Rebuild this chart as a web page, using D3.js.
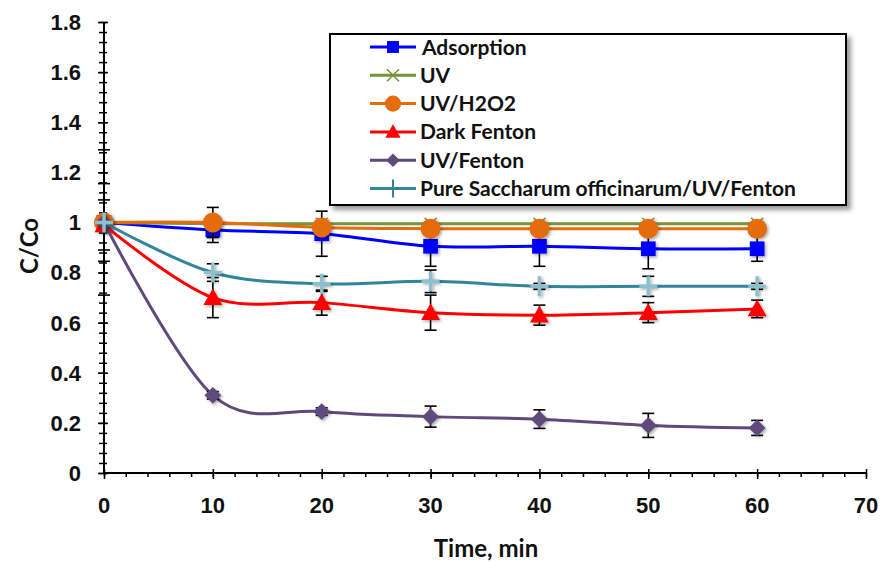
<!DOCTYPE html>
<html lang="en">
<head>
    <meta charset="UTF-8" />
    <title>C/Co vs time</title>
    <script src="https://d3js.org/d3.v7.min.js"></script>
    <style>
        body {
            margin: 0;
            background: #fff;
            font-family: Lato, "Open Sans", sans-serif;
        }
        svg text {
            font-weight: bold;
            fill: #111;
        }
    </style>
</head>
<body>
    <svg id="chart" width="884" height="562"></svg>

    <script>
        // time points (min)
        const times = [0, 10, 20, 30, 40, 50, 60];

        const seriesNames = ["Adsorption", "UV", "UV/H2O2", "Dark Fenton", "UV/Fenton",
            "Pure Saccharum officinarum/UV/Fenton"];
        const seriesColors = ["#0000ff", "#77933c", "#e46c0a", "#ff0000", "#604a7b", "#31859c"];
        const seriesMarkers = ["square", "x", "circle", "triangle", "diamond", "plus"];

        // C/Co values
        const adsorption = [1.0, 0.97, 0.955, 0.905, 0.905, 0.895, 0.895];
        const uv = [1.0, 0.995, 0.995, 0.995, 0.995, 0.995, 0.995];
        const uvH2o2 = [1.0, 1.0, 0.98, 0.975, 0.975, 0.975, 0.975];
        const darkFenton = [0.99, 0.70, 0.68, 0.64, 0.63, 0.64, 0.655];
        const uvFenton = [1.0, 0.31, 0.245, 0.225, 0.215, 0.19, 0.18];
        const saccharum = [1.0, 0.80, 0.755, 0.765, 0.745, 0.745, 0.745];

        // error bars (+/-)
        const adsorptionErr = [0, 0.05, 0.09, 0.08, 0.08, 0.08, 0.05];
        const uvErr = [0, 0, 0, 0, 0, 0, 0];
        const uvH2o2Err = [0, 0.06, 0.02, 0.02, 0.02, 0.02, 0.02];
        const darkFentonErr = [0.1, 0.08, 0.05, 0.07, 0.04, 0.04, 0.035];
        const uvFentonErr = [0.155, 0.015, 0.015, 0.042, 0.037, 0.048, 0.03];
        const saccharumErr = [0.29, 0.035, 0.03, 0.045, 0.012, 0.04, 0.012];

        const xTicks = [0, 10, 20, 30, 40, 50, 60, 70];
        const yTicks = [0, 0.2, 0.4, 0.6, 0.8, 1, 1.2, 1.4, 1.6, 1.8];

        const values = [adsorption, uv, uvH2o2, darkFenton, uvFenton, saccharum];
        const errors = [adsorptionErr, uvErr, uvH2o2Err, darkFentonErr, uvFentonErr, saccharumErr];

        const svg = d3.select("#chart");

        const x = d3.scaleLinear().domain([0, 70]).range([104, 866]);
        const y = d3.scaleLinear().domain([0, 1.8]).range([473, 22]);

        // soft shadow like the spreadsheet markers
        const defs = svg.append("defs");
        const f = defs.append("filter").attr("id", "shadow")
            .attr("x", "-50%").attr("y", "-50%").attr("width", "200%").attr("height", "200%");
        f.append("feDropShadow").attr("dx", 1.5).attr("dy", 1.5)
            .attr("stdDeviation", 1.8).attr("flood-color", "#000").attr("flood-opacity", 0.35);
        const fb = defs.append("filter").attr("id", "boxshadow")
            .attr("x", "-10%").attr("y", "-10%").attr("width", "130%").attr("height", "130%");
        fb.append("feDropShadow").attr("dx", 4).attr("dy", 4)
            .attr("stdDeviation", 2.5).attr("flood-color", "#000").attr("flood-opacity", 0.4);

        // axes
        const xAxis = svg.append("g").attr("transform", `translate(0,${y(0)})`);
        xAxis.call(d3.axisBottom(x).tickValues(d3.range(0, 71, 2)).tickSize(4).tickFormat(""))
            .call(g => g.select(".domain").remove());
        xAxis.append("g").call(d3.axisBottom(x).tickValues(xTicks).tickSize(6).tickFormat(""))
            .call(g => g.select(".domain").remove())
            .selectAll("line").attr("y1", -4);
        xAxis.append("line").attr("x1", x(0)).attr("x2", x(70))
            .attr("stroke", "#000").attr("stroke-width", 2);
        xAxis.selectAll(".tick line").attr("stroke", "#000").attr("stroke-width", 1.5);
        xAxis.selectAll("text.lbl").data(xTicks).join("text").attr("class", "lbl")
            .attr("x", d => x(d)).attr("y", 40)
            .attr("text-anchor", "middle").attr("font-size", 22).text(d => d);

        const yAxis = svg.append("g").attr("transform", `translate(${x(0)},0)`);
        yAxis.call(d3.axisLeft(y).tickValues(d3.range(0, 1.801, 0.04)).tickSize(5).tickFormat(""))
            .call(g => g.select(".domain").remove())
            .selectAll("line").attr("x2", -5).attr("x1", 3);
        yAxis.append("g").call(d3.axisLeft(y).tickValues(yTicks).tickFormat(""))
            .call(g => g.select(".domain").remove())
            .selectAll("line").attr("x2", -6).attr("x1", 4);
        yAxis.append("line").attr("y1", y(0)).attr("y2", y(1.8))
            .attr("stroke", "#000").attr("stroke-width", 2);
        yAxis.selectAll(".tick line").attr("stroke", "#000").attr("stroke-width", 1.5);
        yAxis.selectAll("text.lbl").data(yTicks).join("text").attr("class", "lbl")
            .attr("x", -23).attr("y", d => y(d)).attr("dy", "0.36em")
            .attr("text-anchor", "end").attr("font-size", 22).text(d => d);

        svg.append("text").attr("x", 486).attr("y", 557)
            .attr("text-anchor", "middle").attr("font-size", 24).text("Time, min");
        svg.append("text").attr("transform", `translate(38,246) rotate(-90)`)
            .attr("text-anchor", "middle").attr("font-size", 24).text("C/Co");

        // marker drawing
        function marker(g, type, color, legend) {
            const s = legend ? 0.85 : 1.05;
            if (type === "square") {
                g.append("rect").attr("x", -7 * s).attr("y", -7 * s).attr("width", 14 * s).attr("height", 14 * s)
                    .attr("fill", color);
            } else if (type === "circle") {
                g.append("circle").attr("r", 9.5 * s).attr("fill", color);
            } else if (type === "triangle") {
                g.append("path").attr("d", `M0,${-9 * s}L${9 * s},${7 * s}L${-9 * s},${7 * s}Z`).attr("fill", color);
            } else if (type === "diamond") {
                g.append("path").attr("d", `M0,${-8 * s}L${8 * s},0L0,${8 * s}L${-8 * s},0Z`).attr("fill", color);
            } else if (type === "x") {
                g.append("path").attr("d", `M-6,-6L6,6M-6,6L6,-6`).attr("stroke", color).attr("stroke-width", 1.5);
            } else if (type === "plus") {
                g.append("path").attr("d", legend ? "M0,-9L0,9" : "M-9,0L9,0M0,-10L0,10")
                    .attr("stroke", legend ? color : "#8dbfcd").attr("stroke-width", legend ? 2 : 3.5);
            }
        }

        const line = d3.line().x(d => x(d[0])).y(d => y(d[1])).curve(d3.curveCatmullRom.alpha(0));

        values.forEach((vals, i) => {
            const pts = times.map((t, j) => [t, vals[j], errors[i][j]]);
            const g = svg.append("g");
            g.append("path").datum(pts).attr("d", line)
                .attr("fill", "none").attr("stroke", seriesColors[i]).attr("stroke-width", 3);

            const eb = g.append("g").attr("stroke", "#000").attr("stroke-width", 1.6);
            pts.filter(p => p[2] > 0).forEach(p => {
                const cx = x(p[0]);
                const y1 = y(p[1] + p[2]), y2 = y(p[1] - p[2]);
                eb.append("line").attr("x1", cx).attr("x2", cx).attr("y1", y1).attr("y2", y2);
                eb.append("line").attr("x1", cx - 6).attr("x2", cx + 6).attr("y1", y1).attr("y2", y1);
                eb.append("line").attr("x1", cx - 6).attr("x2", cx + 6).attr("y1", y2).attr("y2", y2);
            });

            g.selectAll("g.m").data(pts).join("g").attr("class", "m")
                .attr("transform", p => `translate(${x(p[0])},${y(p[1])})`)
                .attr("filter", "url(#shadow)")
                .each(function () { marker(d3.select(this), seriesMarkers[i], seriesColors[i], false); });
        });

        // legend
        const legend = svg.append("g");
        legend.append("rect").attr("x", 330).attr("y", 34).attr("width", 516).attr("height", 171)
            .attr("fill", "#fff").attr("stroke", "#000").attr("stroke-width", 2)
            .attr("filter", "url(#boxshadow)");
        seriesNames.forEach((name, i) => {
            const ly = 47 + i * 28.3;
            const item = legend.append("g");
            item.append("line").attr("x1", 370).attr("x2", 416).attr("y1", ly).attr("y2", ly)
                .attr("stroke", seriesColors[i]).attr("stroke-width", 3);
            const mg = item.append("g").attr("transform", `translate(393,${ly})`);
            marker(mg, seriesMarkers[i], seriesColors[i], true);
            item.append("text").attr("x", i === 0 ? 422 : 420).attr("y", ly).attr("dy", "0.36em")
                .attr("font-size", 21).text(name);
        });
    </script>
</body>
</html>
